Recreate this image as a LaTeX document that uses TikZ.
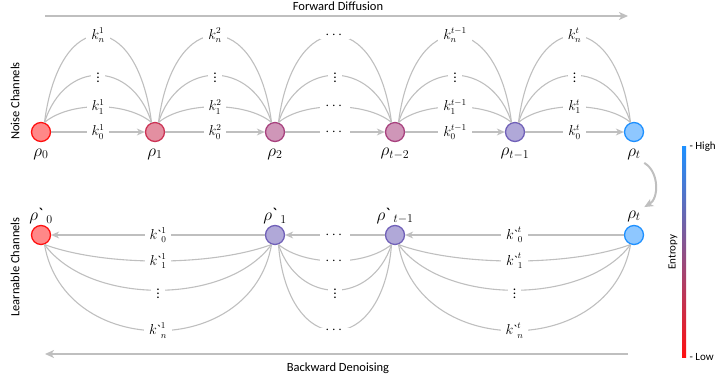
\documentclass[tikz,border=0pt]{standalone}
\usepackage{amsmath}
\usepackage{fontspec}
\setmainfont{Carlito}
\usetikzlibrary{arrows.meta, positioning}

\newcommand{\kgr}[2]{k\text{\textasciigrave}^{#1}_{#2}}
\newcommand{\rhogr}[1]{\rho\text{\textasciigrave\,}_{#1}}

\definecolor{lineGray}{HTML}{BFBFBF}
\definecolor{cRed}{HTML}{FF1010}
\definecolor{cCrim}{HTML}{CC3355}
\definecolor{cMag}{HTML}{A8417E}
\definecolor{cPurp}{HTML}{7060B8}
\definecolor{cBlue}{HTML}{1E90FF}
\definecolor{barPurp}{HTML}{7E58A8}

\begin{document}
\begin{tikzpicture}[x=1pt, y=-1pt, on grid,
    dens/.style={circle, minimum size=19pt, inner sep=0pt, line width=1.3pt},
    conn/.style={draw=lineGray, line width=1.1pt},
    arr/.style={conn, -{Stealth[length=8pt, width=7pt, inset=2.5pt]}},
    big/.style={draw=lineGray, line width=2pt, -{Stealth[length=9pt, width=8pt, inset=2.5pt]}},
    lbl/.style={fill=white, inner xsep=5pt, inner ysep=0pt, font=\fontsize{13.5}{15}\selectfont},
    rlbl/.style={font=\fontsize{18}{20}\selectfont},
    txt/.style={font=\fontsize{12.5}{15}\selectfont}]
    \useasboundingbox (0,0) rectangle (718,385);

    % forward chain
    \node[dens, draw=cRed, fill=cRed!50] (n0) at (41,132) {};
    \node[dens, draw=cCrim, fill=cCrim!55] (n1) [right=114pt of n0] {};
    \node[dens, draw=cMag, fill=cMag!55] (n2) [right=120pt of n1] {};
    \node[dens, draw=cMag, fill=cMag!55] (n3) [right=120pt of n2] {};
    \node[dens, draw=cPurp, fill=cPurp!55] (n4) [right=120pt of n3] {};
    \node[dens, draw=cBlue, fill=cBlue!50] (n5) [right=119pt of n4] {};

    \node[rlbl] (l0) [below=22pt of n0] {$\rho_0$};
    \node[rlbl] (l1) [below=22pt of n1] {$\rho_1$};
    \node[rlbl] (l2) [below=22pt of n2] {$\rho_2$};
    \node[rlbl] (l3) [below=22pt of n3] {$\rho_{t-2}$};
    \node[rlbl] (l4) [below=22pt of n4] {$\rho_{t-1}$};
    \node[rlbl] (l5) [below=22pt of n5] {$\rho_t$};

    % backward chain
    \node[dens, draw=cRed, fill=cRed!50] (m0) [below=103pt of n0] {};
    \node[dens, draw=cPurp, fill=cPurp!55] (m1) [below=103pt of n2] {};
    \node[dens, draw=cPurp, fill=cPurp!55] (m2) [below=103pt of n3] {};
    \node[dens, draw=cBlue, fill=cBlue!50] (m3) [below=103pt of n5] {};

    \node[rlbl] (L0) [above=19pt of m0] {$\rhogr{0}$};
    \node[rlbl] (L1) [above=19pt of m1] {$\rhogr{1}$};
    \node[rlbl] (L2) [above=19pt of m2] {$\rhogr{t-1}$};
    \node[rlbl] (L3) [above=19pt of m3] {$\rho_t$};

    % noise channels
    \foreach \a/\b/\lz/\lo/\ln in {n0/n1/k^1_0/k^1_1/k^1_n, n1/n2/k^2_0/k^2_1/k^2_n,
        n2/n3/\cdots/\cdots/\cdots, n3/n4/k^{t-1}_0/k^{t-1}_1/k^{t-1}_n, n4/n5/k^t_0/k^t_1/k^t_n}{
        \draw[arr] (\a) -- node[lbl] {$\lz$} (\b);
        \draw[conn] (\a.70) .. controls +(25,-21) and +(-25,-21) .. node[lbl] {$\lo$} (\b.110);
        \draw[conn] (\a.70) .. controls +(20,-63) and +(-20,-63) .. node[lbl] {$\vdots$} (\b.110);
        \draw[conn] (\a.70) .. controls +(15,-116) and +(-15,-116) .. node[lbl] {$\ln$} (\b.110);
    }

    % learnable channels
    \foreach \a/\b/\f/\lz/\lo/\ln in {m3/m2/1/\kgr{t}{0}/\kgr{t}{1}/\kgr{t}{n},
        m2/m1/0.45/\cdots/\cdots/\cdots, m1/m0/1/\kgr{1}{0}/\kgr{1}{1}/\kgr{1}{n}}{
        \draw[arr] (\a) -- node[lbl] {$\lz$} (\b);
        \draw[conn] (\a.250) .. controls +({-60*\f},22) and +({60*\f},22) .. node[lbl] {$\lo$} (\b.290);
        \draw[conn] (\a.250) .. controls +({-45*\f},61) and +({45*\f},61) .. node[lbl] {$\vdots$} (\b.290);
        \draw[conn] (\a.250) .. controls +({-20*\f},115) and +({20*\f},115) .. node[lbl] {$\ln$} (\b.290);
    }

    \draw[big] (l5.south east) to[bend left=60] (L3.north east);

    % direction arrows
    \coordinate (fwdA) at (45,16);
    \coordinate (fwdB) at (628,16);
    \draw[big] (fwdA) -- (fwdB);
    \node[txt] (fwd) at (338,6) {Forward Diffusion};
    \coordinate (bwdA) at (628,354);
    \coordinate (bwdB) at (45,354);
    \draw[big] (bwdA) -- (bwdB);
    \node[txt] (bwd) at (338,368) {Backward Denoising};

    \node[txt, rotate=90] (noise) at (15,101) {Noise Channels};
    \node[txt, rotate=90] (learn) at (15,267) {Learnable Channels};

    % entropy bar
    \shade[top color=cBlue, middle color=barPurp, bottom color=cRed] (682,147) rectangle (686,357);
    \node[txt, anchor=west, font=\fontsize{11}{13}\selectfont] (high) at (686,147) {- High};
    \node[txt, anchor=west, font=\fontsize{11}{13}\selectfont] (low) at (686,357) {- Low};
    \node[txt, rotate=90, font=\fontsize{11}{13}\selectfont] (ent) at (673,252) {Entropy};
\end{tikzpicture}
\end{document}
